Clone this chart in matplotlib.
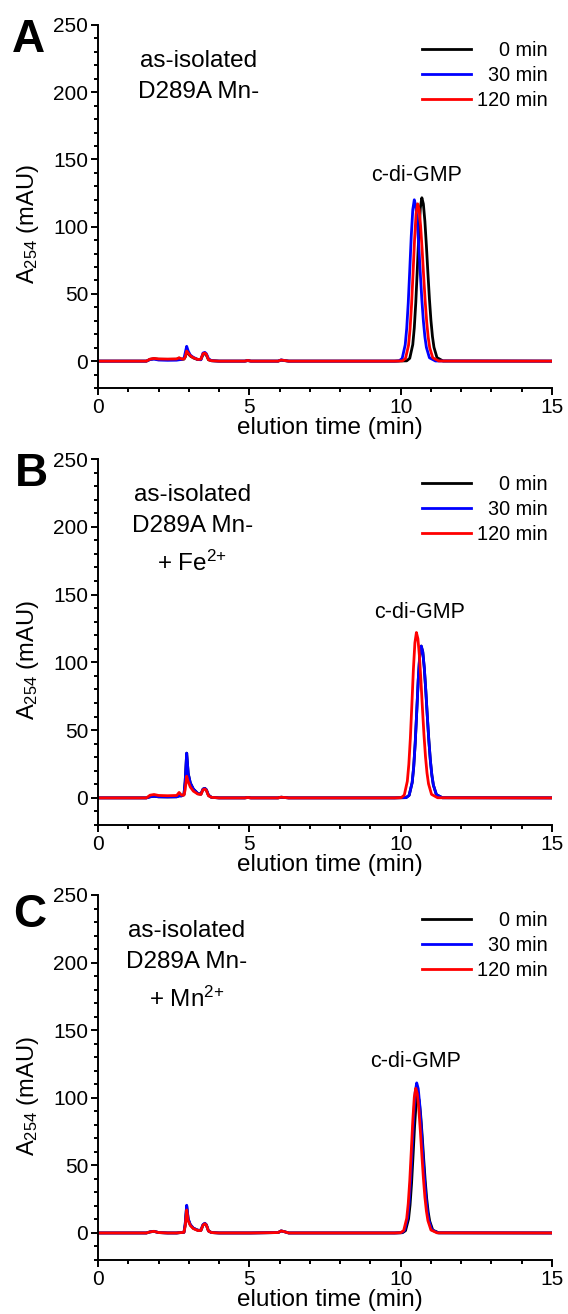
"""HPLC traces of c-di-GMP turnover by as-isolated D289A Mn- (three panels).

A: no added metal, B: + Fe2+, C: + Mn2+. Each panel overlays the 0, 30 and
120 min samples (A254 against elution time).
"""
import matplotlib

matplotlib.use("Agg")
import matplotlib.pyplot as plt
from matplotlib.ticker import MultipleLocator

plt.rcParams["font.family"] = ["Liberation Sans", "DejaVu Sans"]
plt.rcParams["mathtext.fontset"] = "custom"
plt.rcParams["mathtext.rm"] = "Liberation Sans"
plt.rcParams["mathtext.it"] = "Liberation Sans:italic"
plt.rcParams["mathtext.bf"] = "Liberation Sans:bold"
plt.rcParams["mathtext.default"] = "regular"

BLACK, BLUE, RED = "#000000", "#0000FF", "#FF0000"
COLORS = [BLACK, BLUE, RED]
LEGEND = ["0 min", "30 min", "120 min"]

# retention times (min) read for the early, small-peak region
EARLY_T = [0.0, 1.60, 1.72, 1.85, 2.00, 2.30, 2.60, 2.68, 2.76, 2.84, 2.88, 2.93,
           2.98, 3.05, 3.15, 3.30, 3.40, 3.47, 3.53, 3.58, 3.65, 3.75, 4.00, 4.85,
           4.95, 5.05, 5.95, 6.05, 6.15, 6.30, 9.80]
END_T, END_Y = [15.0], [0.0]

# panel A: as-isolated D289A Mn-
A_BLACK_EARLY = [0, 0, 1.3, 1.8, 1.4, 1.3, 1.4, 2.2, 1.4, 1.5, 3.0, 7.0, 5.5, 3.8, 2.4, 1.1,
                 1.3, 5.0, 5.5, 4.5, 1.0, 0.3, 0, 0, 0.4, 0, 0, 0.7, 0.4, 0, 0]
A_BLACK_PEAK_T = [10.20, 10.30, 10.40, 10.45, 10.50, 10.55, 10.60, 10.65, 10.70, 10.75,
                  10.80, 10.85, 10.90, 10.95, 11.00, 11.05, 11.10, 11.20, 11.40]
A_BLACK_PEAK_Y = [0.2, 2.1, 12.3, 24.7, 43.7, 68.4, 94.2, 114.0, 121.5, 116.9, 104.1, 85.9,
                  65.5, 46.3, 30.3, 18.3, 10.3, 2.6, 0.1]
A_BLUE_EARLY = [0, 0, 1.2, 1.5, 0.8, 0.6, 0.7, 1.0, 1.2, 2.0, 6.0, 11.0, 7.5, 4.5, 2.8, 1.2,
                1.0, 6.0, 6.5, 5.5, 1.8, 0.3, 0, 0, 0.4, 0, 0, 0.9, 0.5, 0, 0]
A_BLUE_PEAK_T = [9.95, 10.05, 10.15, 10.20, 10.25, 10.30, 10.35, 10.40, 10.45, 10.50,
                 10.55, 10.60, 10.65, 10.70, 10.75, 10.80, 10.85, 10.95, 11.15]
A_BLUE_PEAK_Y = [0.2, 2.0, 12.1, 24.4, 43.2, 67.6, 93.0, 112.6, 120.0, 115.4, 102.8, 84.8,
                 64.7, 45.7, 29.9, 18.1, 10.2, 2.5, 0.1]
A_RED_EARLY = [0, 0, 1.5, 2.0, 1.6, 1.5, 1.6, 2.5, 1.6, 1.6, 3.0, 7.5, 6.0, 4.0, 2.5, 1.2,
               1.5, 5.5, 6.0, 5.0, 1.0, 0.3, 0, 0, 0.5, 0, 0, 0.8, 0.5, 0, 0]
A_RED_PEAK_T = [10.06, 10.16, 10.26, 10.31, 10.36, 10.41, 10.46, 10.51, 10.56, 10.61,
                10.66, 10.71, 10.76, 10.81, 10.86, 10.91, 10.96, 11.06, 11.26]
A_RED_PEAK_Y = [0.2, 2.0, 11.8, 23.8, 42.1, 65.9, 90.7, 109.7, 117.0, 112.6, 100.3, 82.7,
                63.1, 44.6, 29.1, 17.7, 9.9, 2.5, 0.1]

# panel B: + Fe2+ (the 0 min trace lies under the 30 min one)
B_BLUE_EARLY = [0, 0, 0.8, 1.2, 0.8, 0.7, 0.8, 1.5, 1.5, 2.5, 12.0, 33.0, 18.0, 11.0, 6.5,
                3.2, 2.8, 6.5, 7.0, 6.0, 2.0, 0.4, 0, 0, 0.3, 0, 0, 0.5, 0.3, 0, 0]
B_BLUE_PEAK_T = [10.18, 10.28, 10.38, 10.43, 10.48, 10.53, 10.58, 10.63, 10.68, 10.73,
                 10.78, 10.83, 10.88, 10.93, 10.98, 11.03, 11.08, 11.18, 11.38]
B_BLUE_PEAK_Y = [0.2, 1.9, 11.3, 22.7, 40.3, 63.1, 86.8, 105.1, 112.0, 107.7, 96.0, 79.2,
                 60.4, 42.7, 27.9, 16.9, 9.5, 2.4, 0.1]
B_BLACK_EARLY, B_BLACK_PEAK_T, B_BLACK_PEAK_Y = B_BLUE_EARLY, B_BLUE_PEAK_T, B_BLUE_PEAK_Y
B_RED_EARLY = [0, 0, 2.0, 2.5, 1.8, 1.6, 1.8, 4.0, 2.0, 2.0, 6.0, 16.0, 12.0, 8.0, 5.0, 2.8,
               2.5, 6.0, 6.5, 5.5, 1.5, 0.4, 0, 0, 0.3, 0, 0, 0.5, 0.3, 0, 0]
B_RED_PEAK_T = [10.02, 10.12, 10.22, 10.27, 10.32, 10.37, 10.42, 10.47, 10.52, 10.57,
                10.62, 10.67, 10.72, 10.77, 10.82, 10.87, 10.92, 11.02, 11.22]
B_RED_PEAK_Y = [0.2, 2.1, 12.3, 24.8, 43.9, 68.7, 94.6, 114.4, 122.0, 117.4, 104.6, 86.3,
                65.8, 46.5, 30.4, 18.4, 10.4, 2.6, 0.1]

# panel C: + Mn2+
C_BLACK_EARLY = [0, 0, 0.8, 1.2, 0.3, 0, 0, 0.2, 0.3, 0.5, 6.0, 20.0, 10.0, 6.0, 3.5, 2.0,
                 2.0, 6.0, 7.0, 6.0, 1.5, 0.3, 0, 0, 0, 0, 0.3, 1.5, 1.0, 0, 0]
C_BLACK_PEAK_T = [10.06, 10.16, 10.26, 10.31, 10.36, 10.41, 10.46, 10.51, 10.56, 10.61,
                  10.66, 10.71, 10.76, 10.81, 10.86, 10.91, 10.96, 11.06, 11.26]
C_BLACK_PEAK_Y = [0.2, 1.7, 10.3, 20.7, 36.7, 57.4, 79.1, 95.7, 102.0, 98.1, 87.4, 72.1,
                  55.0, 38.9, 25.4, 15.4, 8.7, 2.1, 0.1]
C_BLUE_EARLY = [0, 0, 0.8, 1.2, 0.3, 0, 0, 0.2, 0.3, 0.5, 6.5, 20.5, 10.5, 6.2, 3.6, 2.0,
                2.0, 6.2, 7.2, 6.0, 1.5, 0.3, 0, 0, 0, 0, 0.3, 1.5, 1.0, 0, 0]
C_BLUE_PEAK_T = [10.03, 10.13, 10.23, 10.28, 10.33, 10.38, 10.43, 10.48, 10.53, 10.58,
                 10.63, 10.68, 10.73, 10.78, 10.83, 10.88, 10.93, 11.03, 11.23]
C_BLUE_PEAK_Y = [0.2, 1.9, 11.2, 22.5, 40.0, 62.5, 86.0, 104.1, 111.0, 106.8, 95.1, 78.5,
                 59.8, 42.3, 27.6, 16.8, 9.4, 2.3, 0.1]
C_RED_EARLY = [0, 0, 0.8, 1.2, 0.3, 0, 0, 0.2, 0.3, 0.5, 5.0, 17.0, 9.0, 5.5, 3.2, 1.8,
               1.8, 5.8, 6.8, 5.8, 1.4, 0.3, 0, 0, 0, 0, 0.3, 1.5, 1.0, 0, 0]
C_RED_PEAK_T = [10.00, 10.10, 10.20, 10.25, 10.30, 10.35, 10.40, 10.45, 10.50, 10.55,
                10.60, 10.65, 10.70, 10.75, 10.80, 10.85, 10.90, 11.00, 11.20]
C_RED_PEAK_Y = [0.2, 1.8, 10.8, 21.7, 38.5, 60.2, 82.9, 100.4, 107.0, 102.9, 91.7, 75.6,
                57.7, 40.8, 26.6, 16.2, 9.1, 2.2, 0.1]

CONDITIONS = [["as-isolated", "D289A Mn-"],
              ["as-isolated", "D289A Mn-", "+ Fe$^{2{+}}$"],
              ["as-isolated", "D289A Mn-", "+ Mn$^{2{+}}$"]]
GMP_LABEL_AT = [(10.54, 134), (10.63, 132.5), (10.50, 123)]

# layout in pixels of the 568 x 1314 figure
FIG_W, FIG_H = 568, 1314
AX_LEFT, AX_RIGHT = 98, 552
AX_ROWS = [(25, 388), (459, 825), (895, 1260)]
LETTER_AT = [("A", 12, 18), ("B", 15, 452), ("C", 13, 893)]
COND_X = [0.222, 0.208, 0.196]
COND_BASELINES = [42, 72.5, 112]
LEG_ROWS = [23.5, 48.5, 74]


def main():
    traces = [
        [(A_BLACK_EARLY, A_BLACK_PEAK_T, A_BLACK_PEAK_Y),
         (A_BLUE_EARLY, A_BLUE_PEAK_T, A_BLUE_PEAK_Y),
         (A_RED_EARLY, A_RED_PEAK_T, A_RED_PEAK_Y)],
        [(B_BLACK_EARLY, B_BLACK_PEAK_T, B_BLACK_PEAK_Y),
         (B_BLUE_EARLY, B_BLUE_PEAK_T, B_BLUE_PEAK_Y),
         (B_RED_EARLY, B_RED_PEAK_T, B_RED_PEAK_Y)],
        [(C_BLACK_EARLY, C_BLACK_PEAK_T, C_BLACK_PEAK_Y),
         (C_BLUE_EARLY, C_BLUE_PEAK_T, C_BLUE_PEAK_Y),
         (C_RED_EARLY, C_RED_PEAK_T, C_RED_PEAK_Y)],
    ]

    fig = plt.figure(figsize=(FIG_W / 100, FIG_H / 100), dpi=100)

    for i, (top, bottom) in enumerate(AX_ROWS):
        ax_h = bottom - top
        ax = fig.add_axes([AX_LEFT / FIG_W, (FIG_H - bottom) / FIG_H,
                           (AX_RIGHT - AX_LEFT) / FIG_W, ax_h / FIG_H])
        for (early, pt, py), color in zip(traces[i], COLORS):
            ax.plot(EARLY_T + pt + END_T, early + py + END_Y, color=color, lw=2.0,
                    solid_joinstyle="round")

        ax.set_xlim(0, 15)
        ax.set_ylim(-20, 250)
        ax.set_xticks([0, 5, 10, 15])
        ax.set_yticks([0, 50, 100, 150, 200, 250])
        ax.xaxis.set_minor_locator(MultipleLocator(1))
        ax.yaxis.set_minor_locator(MultipleLocator(10))
        for side in ("top", "right"):
            ax.spines[side].set_visible(False)
        for side in ("left", "bottom"):
            ax.spines[side].set_linewidth(1.4)
        ax.tick_params(which="major", direction="out", length=5, width=1.4, pad=2,
                       labelsize=15)
        ax.tick_params(which="minor", direction="out", length=3.2, width=1.4)

        ax.set_xlabel("elution time (min)", fontsize=17.5)
        ax.xaxis.set_label_coords(0.51, -29 / ax_h)
        ax.set_ylabel("A$_{254}$ (mAU)", fontsize=17)
        ax.yaxis.set_label_coords(-0.125, 0.45)

        for line, off in zip(CONDITIONS[i], COND_BASELINES):
            ax.text(COND_X[i], 1 - off / ax_h, line, transform=ax.transAxes,
                    ha="center", va="baseline", fontsize=17.5)

        gx, gy = GMP_LABEL_AT[i]
        ax.text(gx, gy, "c-di-GMP", ha="center", va="baseline", fontsize=15.5)

        for lab, color, off in zip(LEGEND, COLORS, LEG_ROWS):
            yy = 1 - off / ax_h
            ax.plot([0.713, 0.821], [yy, yy], transform=ax.transAxes, color=color,
                    lw=2.0, clip_on=False)
            ax.text(0.991, yy - 7.2 / ax_h, lab, transform=ax.transAxes, ha="right",
                    va="baseline", fontsize=14.3)

        letter, lx, ly = LETTER_AT[i]
        fig.text(lx / FIG_W, 1 - ly / FIG_H, letter, ha="left", va="top",
                 fontsize=33, fontweight="bold")

    fig.savefig("out.png", dpi=100)


if __name__ == "__main__":
    main()
